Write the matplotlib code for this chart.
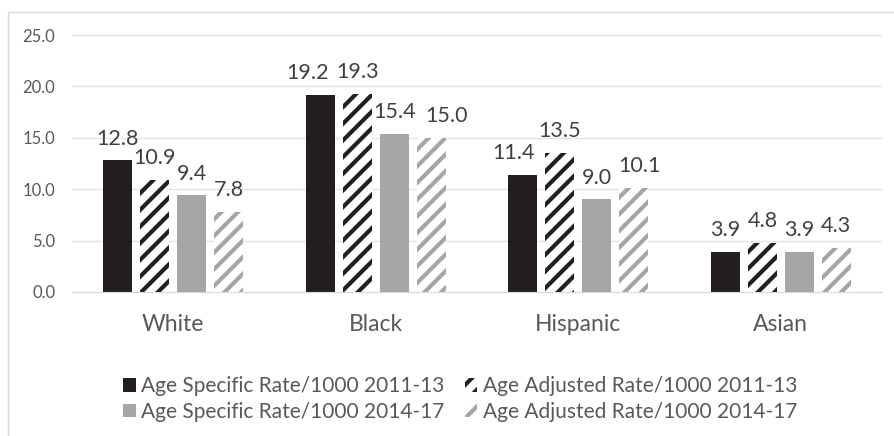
import numpy as np
import matplotlib.pyplot as plt
from matplotlib.lines import Line2D

plt.rcParams['font.family'] = ['Lato', 'DejaVu Sans']
plt.rcParams['hatch.linewidth'] = 3.0

groups = ['White', 'Black', 'Hispanic', 'Asian']
series_names = ['Age Specific Rate/1000 2011-13', 'Age Adjusted Rate/1000 2011-13',
                'Age Specific Rate/1000 2014-17', 'Age Adjusted Rate/1000 2014-17']
spec_1113 = [12.8, 19.2, 11.4, 3.9]
adj_1113 = [10.9, 19.3, 13.5, 4.8]
spec_1417 = [9.4, 15.4, 9.0, 3.9]
adj_1417 = [7.8, 15.0, 10.1, 4.3]
yticks = [0, 5, 10, 15, 20, 25]

values = [spec_1113, adj_1113, spec_1417, adj_1417]
# facecolor, hatch colour, hatch
styles = [('#231f20', '#231f20', None),
          ('white', '#231f20', '//'),
          ('#a6a6a6', '#a6a6a6', None),
          ('white', '#a6a6a6', '//')]
# sideways nudge (points) of some value labels, as in the original, so they don't collide
nudge = {(0, 1): -9.5, (3, 1): 11, (0, 2): -6.5, (3, 2): 4.5}

fig = plt.figure(figsize=(8.95, 4.36), dpi=100)
ax = fig.add_axes([72 / 895, 1 - 292 / 436, 810 / 895, 257 / 436])

x = np.arange(len(groups))
w = 0.143
step = 0.182
bars = []
for i, (vals, (fc, hc, h)) in enumerate(zip(values, styles)):
    pos = x + (i - 1.5) * step
    b = ax.bar(pos, vals, w, color=fc, edgecolor=hc, hatch=h, linewidth=0,
               label=series_names[i], zorder=2)
    bars.append(b)
    for j, (px, v) in enumerate(zip(pos, vals)):
        dx = nudge.get((i, j), 0)
        ax.annotate(f'{v:.1f}', (px, v), xytext=(dx, 8.5), textcoords='offset points',
                    ha='center', va='bottom', fontsize=15.5, color='#404040')

ax.set_xlim(-0.5, 3.5)
ax.set_ylim(0, 25)
ax.set_yticks(yticks)
ax.set_yticklabels([f'{t:.1f}' for t in yticks], fontsize=12, color='#595959')
ax.set_xticks(x)
ax.set_xticklabels(groups, fontsize=16.5, color='#595959')
ax.tick_params(length=0)
ax.tick_params(axis='x', pad=16)
ax.tick_params(axis='y', pad=12)
ax.grid(axis='y', color='#e3e3e3', linewidth=1, zorder=0)
for s in ['top', 'right', 'left']:
    ax.spines[s].set_visible(False)
ax.spines['bottom'].set_color('#d9d9d9')

order = [0, 2, 1, 3]
fig.legend([bars[i] for i in order], [series_names[i] for i in order],
           loc='center', bbox_to_anchor=(460 / 895, 1 - 399 / 436), ncol=2, frameon=False,
           fontsize=15, labelcolor='#595959', handlelength=0.6, handleheight=0.6,
           handletextpad=0.25, columnspacing=1.0, labelspacing=0.25, borderpad=0)

# chart border, only top and left edges fall inside the picture
fig.add_artist(Line2D([8 / 895, 8 / 895, 1], [0, 1 - 12 / 436, 1 - 12 / 436],
                      transform=fig.transFigure, color='#d9d9d9', linewidth=1))

fig.savefig('out.png', dpi=100)
